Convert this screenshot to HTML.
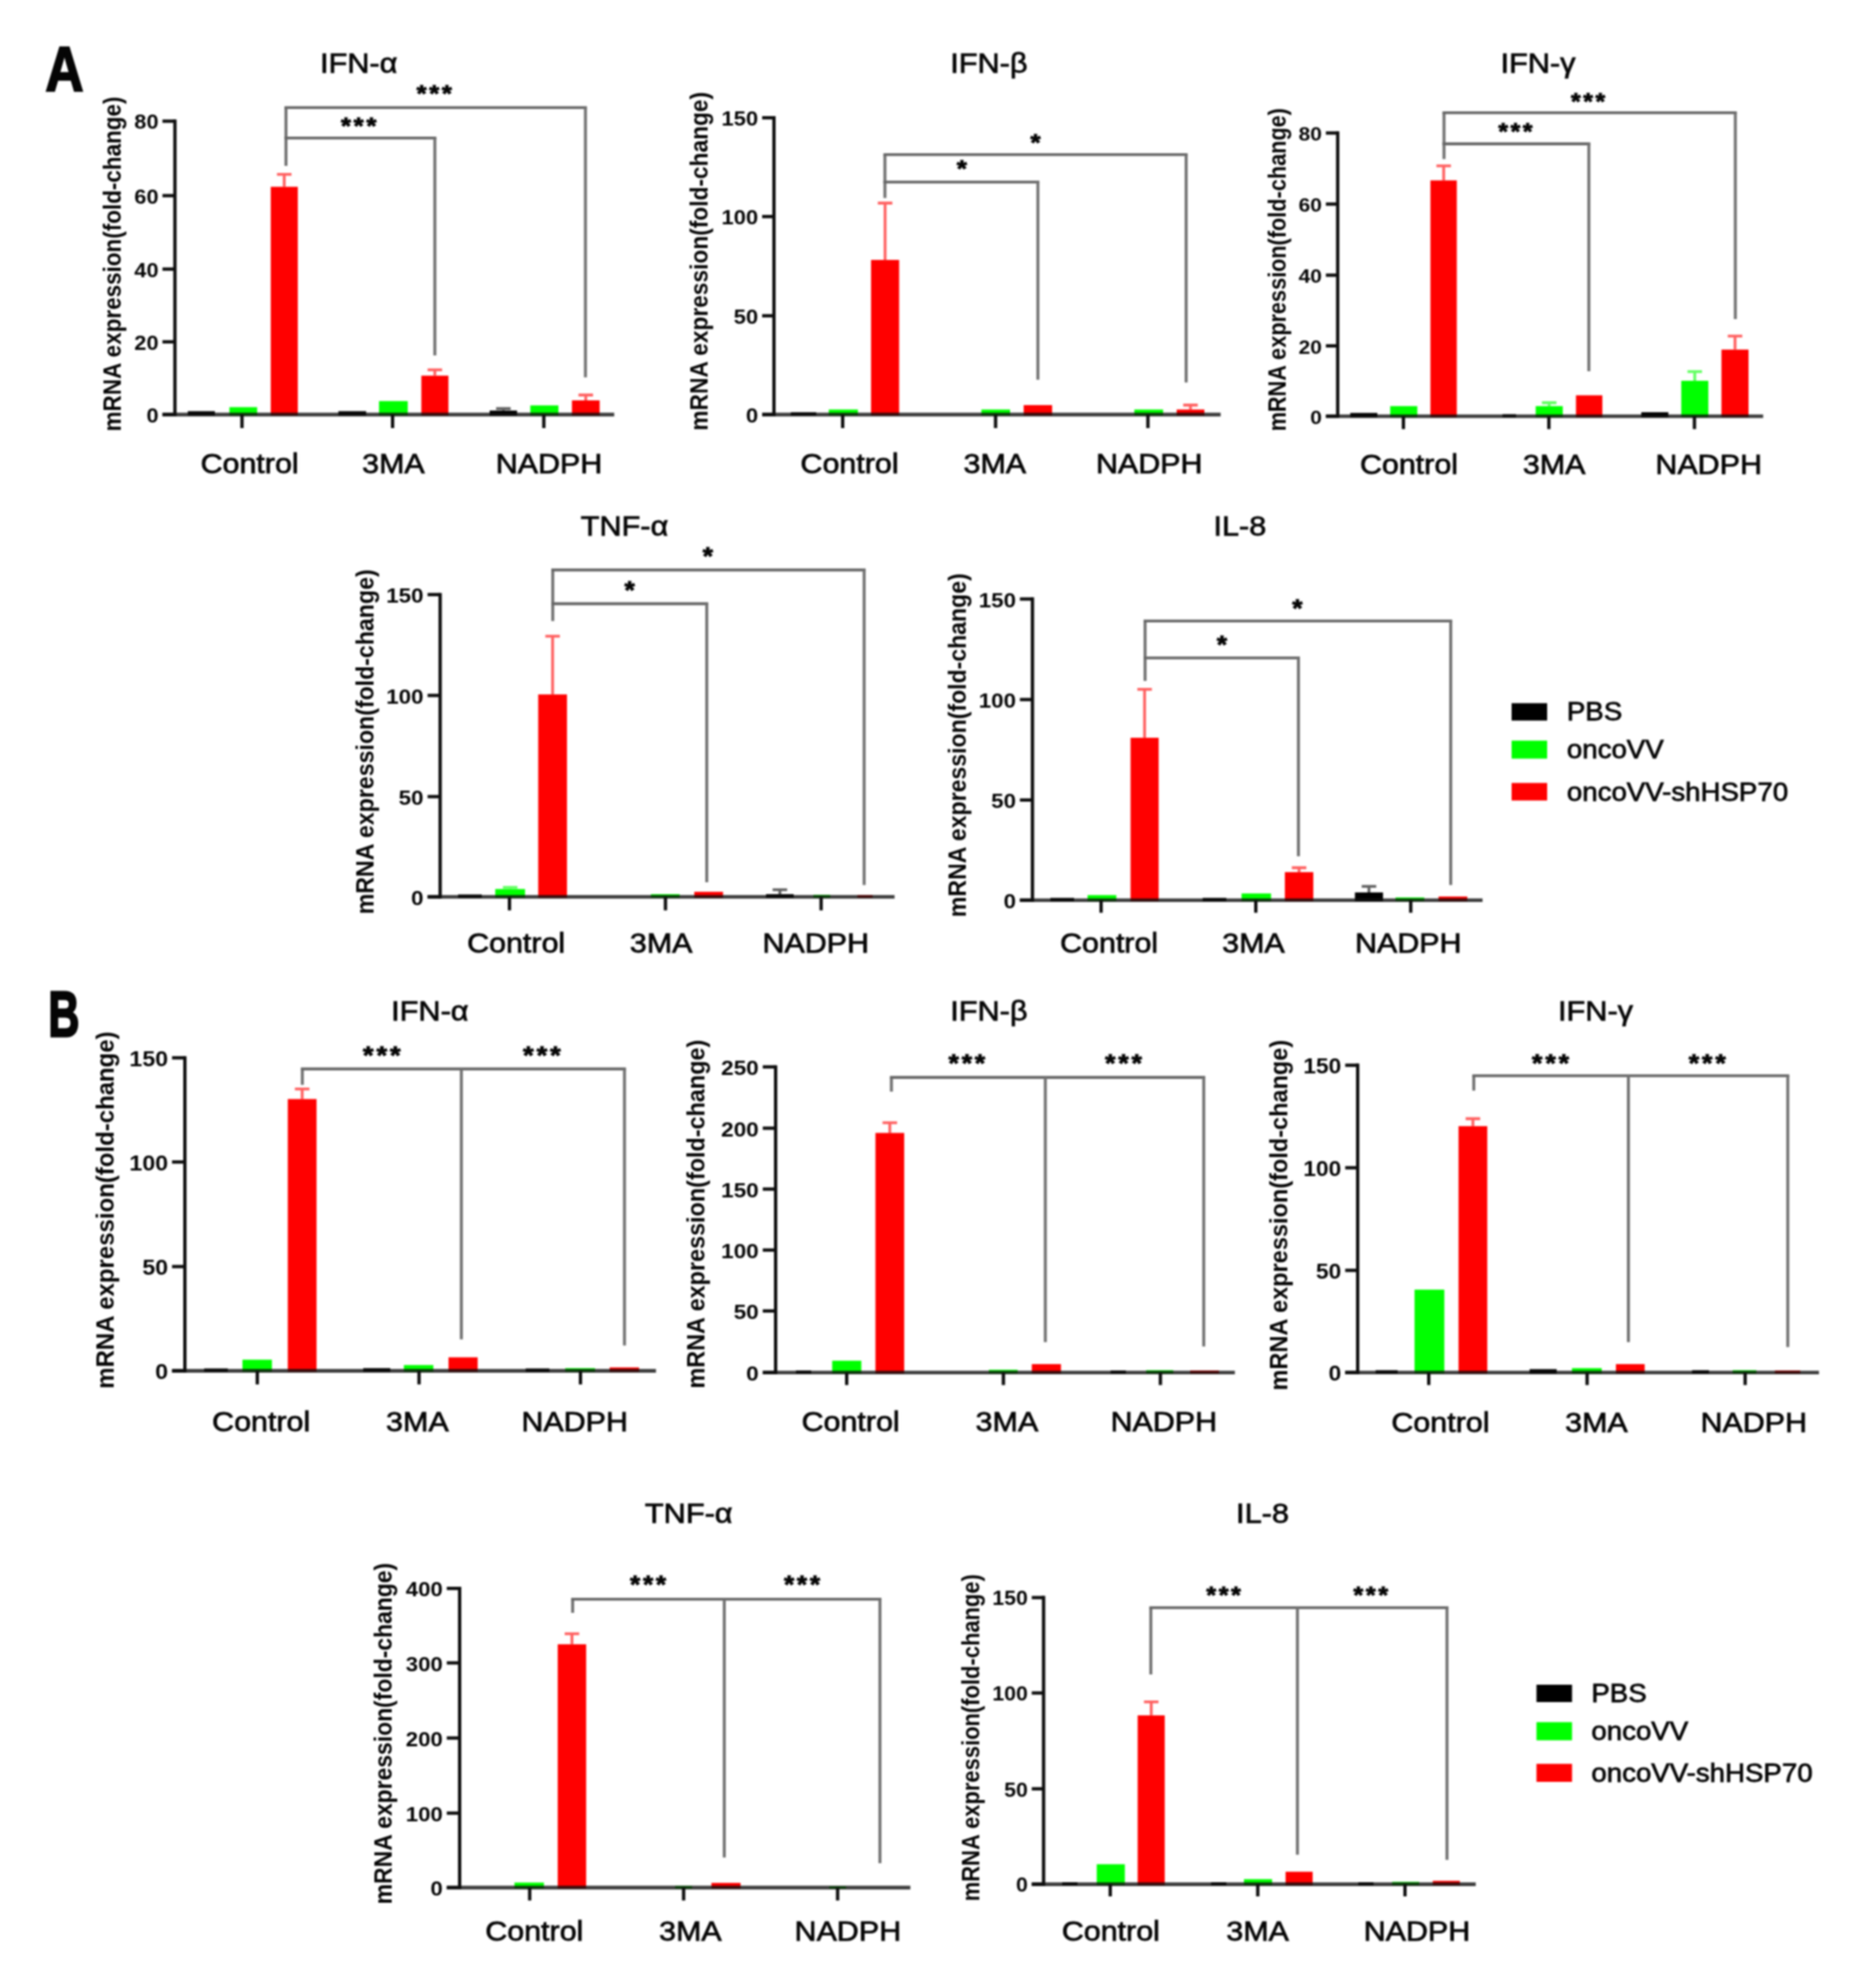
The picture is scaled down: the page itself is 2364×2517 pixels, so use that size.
<!DOCTYPE html>
<html lang="en">
<head>
<meta charset="utf-8">
<title>Figure: mRNA expression (fold-change)</title>
<style>
html,body{margin:0;padding:0;background:#ffffff;}
body{width:2364px;height:2517px;overflow:hidden;}
svg{display:block;font-family:"Liberation Sans",Arial,Helvetica,sans-serif;fill:#050505;}
</style>
</head>
<body>
<svg width="2364" height="2517" viewBox="0 0 2364 2517" shape-rendering="geometricPrecision">
<defs><filter id="soft" x="0" y="0" width="100%" height="100%" filterUnits="userSpaceOnUse" color-interpolation-filters="sRGB"><feGaussianBlur stdDeviation="0.95"/></filter></defs>
<rect x="0" y="0" width="2364" height="2517" fill="#ffffff"/>
<g filter="url(#soft)">
<g>
<text transform="translate(454.2,92.1) scale(1.08,1)" font-size="36.0" text-anchor="middle" font-weight="normal" stroke="#050505" stroke-width="0.9">IFN-α</text>
<rect x="237.8" y="520.6" width="34.3" height="5.5" fill="#000000"/>
<rect x="290.5" y="515.5" width="35.1" height="10.6" fill="#00ff00"/>
<rect x="342.8" y="236.5" width="34.3" height="289.6" fill="#ff0000"/>
<path d="M359.9,236.5 V220.7 M350.7,220.7 H369.1" stroke="#ff0000" stroke-width="3.6" fill="none" opacity="0.62"/>
<rect x="428.5" y="520.6" width="35.1" height="5.5" fill="#000000"/>
<rect x="479.9" y="507.8" width="36.4" height="18.3" fill="#00ff00"/>
<rect x="533.5" y="475.6" width="34.3" height="50.5" fill="#ff0000"/>
<path d="M550.6,475.6 V468.3 M541.4,468.3 H559.8" stroke="#ff0000" stroke-width="3.6" fill="none" opacity="0.62"/>
<rect x="620" y="519.8" width="34.7" height="6.3" fill="#000000"/>
<path d="M637.4,519.8 V517.2 M628.2,517.2 H646.6" stroke="#000000" stroke-width="3.6" fill="none" opacity="0.62"/>
<rect x="671.5" y="513.3" width="35.6" height="12.8" fill="#00ff00"/>
<rect x="724.2" y="506.9" width="35.1" height="19.2" fill="#ff0000"/>
<path d="M741.7,506.9 V500.1 M732.5,500.1 H750.9" stroke="#ff0000" stroke-width="3.6" fill="none" opacity="0.62"/>
<path d="M221.5,151.3 V527" stroke="#0d0d0d" stroke-width="4.2" fill="none"/>
<path d="M205.7,524.9 H777.7" stroke="#0d0d0d" stroke-width="4.6000000000000005" fill="none" stroke-opacity="0.8"/>
<path d="M205.7,153.4 H221.5" stroke="#0d0d0d" stroke-width="4.2" fill="none"/>
<text transform="translate(200.7,163.3) scale(1.08,1)" font-size="25.500349269489707" text-anchor="end" font-weight="bold">80</text>
<path d="M205.7,247.7 H221.5" stroke="#0d0d0d" stroke-width="4.2" fill="none"/>
<text transform="translate(200.7,257.6) scale(1.08,1)" font-size="25.500349269489707" text-anchor="end" font-weight="bold">60</text>
<path d="M205.7,340.7 H221.5" stroke="#0d0d0d" stroke-width="4.2" fill="none"/>
<text transform="translate(200.7,350.6) scale(1.08,1)" font-size="25.500349269489707" text-anchor="end" font-weight="bold">40</text>
<path d="M205.7,432.8 H221.5" stroke="#0d0d0d" stroke-width="4.2" fill="none"/>
<text transform="translate(200.7,442.7) scale(1.08,1)" font-size="25.500349269489707" text-anchor="end" font-weight="bold">20</text>
<path d="M205.7,524.9 H221.5" stroke="#0d0d0d" stroke-width="4.2" fill="none"/>
<text transform="translate(200.7,534.8) scale(1.08,1)" font-size="25.500349269489707" text-anchor="end" font-weight="bold">0</text>
<path d="M306.4,524.9 V542" stroke="#0d0d0d" stroke-width="4.2" fill="none"/>
<path d="M497.1,524.9 V542" stroke="#0d0d0d" stroke-width="4.2" fill="none"/>
<path d="M688.6,524.9 V542" stroke="#0d0d0d" stroke-width="4.2" fill="none"/>
<text transform="translate(316,598.8) scale(1.08,1)" font-size="35.7" text-anchor="middle" font-weight="normal" stroke="#050505" stroke-width="0.9">Control</text>
<text transform="translate(498.1,598.8) scale(1.08,1)" font-size="35.7" text-anchor="middle" font-weight="normal" stroke="#050505" stroke-width="0.9">3MA</text>
<text transform="translate(695.2,598.8) scale(1.08,1)" font-size="35.7" text-anchor="middle" font-weight="normal" stroke="#050505" stroke-width="0.9">NADPH</text>
<text transform="translate(152.7,334.2) rotate(-90) scale(1.0000,1.08)" font-size="28.45" text-anchor="middle" font-weight="bold">mRNA expression(fold-change)</text>
<path d="M362.1,210 V136.3" stroke="#727272" stroke-width="3.8" fill="none"/>
<path d="M360.2,136.3 H743.2" stroke="#666666" stroke-width="3.6" fill="none"/>
<path d="M741.3,136.3 V477.8" stroke="#727272" stroke-width="3.8" fill="none"/>
<path d="M360.2,174.8 H552.5" stroke="#666666" stroke-width="3.6" fill="none"/>
<path d="M550.6,174.8 V449.9" stroke="#727272" stroke-width="3.8" fill="none"/>
<text transform="translate(551.5,128.4) scale(1.08,1)" font-size="30.000410905282006" text-anchor="middle" font-weight="bold" letter-spacing="3.20" stroke="#050505" stroke-width="1.0">***</text>
<text transform="translate(455.9,168.7) scale(1.08,1)" font-size="30.000410905282006" text-anchor="middle" font-weight="bold" letter-spacing="3.20" stroke="#050505" stroke-width="1.0">***</text>
</g>
<g>
<text transform="translate(1252.1,92.1) scale(1.08,1)" font-size="36.0" text-anchor="middle" font-weight="normal" stroke="#050505" stroke-width="0.9">IFN-β</text>
<rect x="1001.4" y="521.9" width="32.1" height="4.2" fill="#000000"/>
<rect x="1049.4" y="518.5" width="36.9" height="7.6" fill="#00ff00"/>
<rect x="1102.9" y="329.1" width="35.6" height="197" fill="#ff0000"/>
<path d="M1120.7,329.1 V257.1 M1111.5,257.1 H1129.9" stroke="#ff0000" stroke-width="3.6" fill="none" opacity="0.62"/>
<rect x="1242.6" y="518.5" width="36.4" height="7.6" fill="#00ff00"/>
<rect x="1296.2" y="512.9" width="36" height="13.2" fill="#ff0000"/>
<rect x="1436.3" y="518.5" width="36.4" height="7.6" fill="#00ff00"/>
<rect x="1489.9" y="518.5" width="35.1" height="7.6" fill="#ff0000"/>
<path d="M1507.4,518.5 V512.9 M1498.2,512.9 H1516.6" stroke="#ff0000" stroke-width="3.6" fill="none" opacity="0.62"/>
<path d="M980,147 V527" stroke="#0d0d0d" stroke-width="4.2" fill="none"/>
<path d="M965,524.9 H1545.6" stroke="#0d0d0d" stroke-width="4.6000000000000005" fill="none" stroke-opacity="0.8"/>
<path d="M965,149.1 H980" stroke="#0d0d0d" stroke-width="4.2" fill="none"/>
<text transform="translate(960,159.1) scale(1.08,1)" font-size="25.794470945031687" text-anchor="end" font-weight="bold">150</text>
<path d="M965,274.2 H980" stroke="#0d0d0d" stroke-width="4.2" fill="none"/>
<text transform="translate(960,284.3) scale(1.08,1)" font-size="25.794470945031687" text-anchor="end" font-weight="bold">100</text>
<path d="M965,399.8 H980" stroke="#0d0d0d" stroke-width="4.2" fill="none"/>
<text transform="translate(960,409.8) scale(1.08,1)" font-size="25.794470945031687" text-anchor="end" font-weight="bold">50</text>
<path d="M965,524.9 H980" stroke="#0d0d0d" stroke-width="4.2" fill="none"/>
<text transform="translate(960,534.9) scale(1.08,1)" font-size="25.794470945031687" text-anchor="end" font-weight="bold">0</text>
<path d="M1067,524.9 V542" stroke="#0d0d0d" stroke-width="4.2" fill="none"/>
<path d="M1260.6,524.9 V542" stroke="#0d0d0d" stroke-width="4.2" fill="none"/>
<path d="M1453.5,524.9 V542" stroke="#0d0d0d" stroke-width="4.2" fill="none"/>
<text transform="translate(1075.7,598.8) scale(1.08,1)" font-size="35.7" text-anchor="middle" font-weight="normal" stroke="#050505" stroke-width="0.9">Control</text>
<text transform="translate(1259.6,598.8) scale(1.08,1)" font-size="35.7" text-anchor="middle" font-weight="normal" stroke="#050505" stroke-width="0.9">3MA</text>
<text transform="translate(1455.2,598.8) scale(1.08,1)" font-size="35.7" text-anchor="middle" font-weight="normal" stroke="#050505" stroke-width="0.9">NADPH</text>
<text transform="translate(896.1,330.8) rotate(-90) scale(1.0115,1.08)" font-size="28.45" text-anchor="middle" font-weight="bold">mRNA expression(fold-change)</text>
<path d="M1120.5,250.7 V195.8" stroke="#727272" stroke-width="3.8" fill="none"/>
<path d="M1118.6,195.8 H1503.8" stroke="#666666" stroke-width="3.6" fill="none"/>
<path d="M1501.9,195.8 V484.2" stroke="#727272" stroke-width="3.8" fill="none"/>
<path d="M1118.6,230.5 H1316.1" stroke="#666666" stroke-width="3.6" fill="none"/>
<path d="M1314.2,230.5 V480.8" stroke="#727272" stroke-width="3.8" fill="none"/>
<text transform="translate(1312.9,190.2) scale(1.08,1)" font-size="30.34643640591963" text-anchor="middle" font-weight="bold" letter-spacing="3.24" stroke="#050505" stroke-width="1.0">*</text>
<text transform="translate(1219.5,223.2) scale(1.08,1)" font-size="30.34643640591963" text-anchor="middle" font-weight="bold" letter-spacing="3.24" stroke="#050505" stroke-width="1.0">*</text>
</g>
<g>
<text transform="translate(1947.5,92.1) scale(1.08,1)" font-size="36.0" text-anchor="middle" font-weight="normal" stroke="#050505" stroke-width="0.9">IFN-γ</text>
<rect x="1709.7" y="522.8" width="34.3" height="5.5" fill="#000000"/>
<rect x="1760.3" y="514.2" width="34.3" height="14.1" fill="#00ff00"/>
<rect x="1811.2" y="228.4" width="33.4" height="299.9" fill="#ff0000"/>
<path d="M1828,228.4 V210 M1818.8,210 H1837.2" stroke="#ff0000" stroke-width="3.6" fill="none" opacity="0.62"/>
<rect x="1902.5" y="524.5" width="17.1" height="3.8" fill="#000000"/>
<rect x="1944.5" y="514.2" width="34.3" height="14.1" fill="#00ff00"/>
<path d="M1961.6,514.2 V509.9 M1952.4,509.9 H1970.8" stroke="#00ff00" stroke-width="3.6" fill="none" opacity="0.62"/>
<rect x="1995.5" y="500.5" width="33.4" height="27.8" fill="#ff0000"/>
<rect x="2078.2" y="521.9" width="34.3" height="6.3" fill="#000000"/>
<rect x="2128.8" y="482.1" width="34.3" height="46.2" fill="#00ff00"/>
<path d="M2145.9,482.1 V470.5 M2136.7,470.5 H2155.1" stroke="#00ff00" stroke-width="3.6" fill="none" opacity="0.62"/>
<rect x="2179.7" y="442.6" width="34.3" height="85.6" fill="#ff0000"/>
<path d="M2196.9,442.6 V425.5 M2187.7,425.5 H2206.1" stroke="#ff0000" stroke-width="3.6" fill="none" opacity="0.62"/>
<path d="M1693.8,166.3 V529.1" stroke="#0d0d0d" stroke-width="4.2" fill="none"/>
<path d="M1678.8,527 H2232.5" stroke="#0d0d0d" stroke-width="4.6000000000000005" fill="none" stroke-opacity="0.8"/>
<path d="M1678.8,168.4 H1693.8" stroke="#0d0d0d" stroke-width="4.2" fill="none"/>
<text transform="translate(1673.8,178) scale(1.08,1)" font-size="24.617984242863763" text-anchor="end" font-weight="bold">80</text>
<path d="M1678.8,258.4 H1693.8" stroke="#0d0d0d" stroke-width="4.2" fill="none"/>
<text transform="translate(1673.8,267.9) scale(1.08,1)" font-size="24.617984242863763" text-anchor="end" font-weight="bold">60</text>
<path d="M1678.8,348.4 H1693.8" stroke="#0d0d0d" stroke-width="4.2" fill="none"/>
<text transform="translate(1673.8,357.9) scale(1.08,1)" font-size="24.617984242863763" text-anchor="end" font-weight="bold">40</text>
<path d="M1678.8,437.9 H1693.8" stroke="#0d0d0d" stroke-width="4.2" fill="none"/>
<text transform="translate(1673.8,447.5) scale(1.08,1)" font-size="24.617984242863763" text-anchor="end" font-weight="bold">20</text>
<path d="M1678.8,527 H1693.8" stroke="#0d0d0d" stroke-width="4.2" fill="none"/>
<text transform="translate(1673.8,536.6) scale(1.08,1)" font-size="24.617984242863763" text-anchor="end" font-weight="bold">0</text>
<path d="M1777,527 V543.3" stroke="#0d0d0d" stroke-width="4.2" fill="none"/>
<path d="M1961.2,527 V543.3" stroke="#0d0d0d" stroke-width="4.2" fill="none"/>
<path d="M2145.5,527 V543.3" stroke="#0d0d0d" stroke-width="4.2" fill="none"/>
<text transform="translate(1784,599.6) scale(1.08,1)" font-size="35.7" text-anchor="middle" font-weight="normal" stroke="#050505" stroke-width="0.9">Control</text>
<text transform="translate(1967.9,599.6) scale(1.08,1)" font-size="35.7" text-anchor="middle" font-weight="normal" stroke="#050505" stroke-width="0.9">3MA</text>
<text transform="translate(2163.5,599.6) scale(1.08,1)" font-size="35.7" text-anchor="middle" font-weight="normal" stroke="#050505" stroke-width="0.9">NADPH</text>
<text transform="translate(1628,341.5) rotate(-90) scale(0.9654,1.08)" font-size="28.45" text-anchor="middle" font-weight="bold">mRNA expression(fold-change)</text>
<path d="M1828.4,201.4 V142.7" stroke="#727272" stroke-width="3.8" fill="none"/>
<path d="M1826.5,142.7 H2199.2" stroke="#666666" stroke-width="3.6" fill="none"/>
<path d="M2197.3,142.7 V404.1" stroke="#727272" stroke-width="3.8" fill="none"/>
<path d="M1826.5,182.1 H2013.7" stroke="#666666" stroke-width="3.6" fill="none"/>
<path d="M2011.8,182.1 V470.1" stroke="#727272" stroke-width="3.8" fill="none"/>
<text transform="translate(2012.6,138.2) scale(1.08,1)" font-size="28.962334403369134" text-anchor="middle" font-weight="bold" letter-spacing="3.09" stroke="#050505" stroke-width="1.0">***</text>
<text transform="translate(1920.4,175.9) scale(1.08,1)" font-size="28.962334403369134" text-anchor="middle" font-weight="bold" letter-spacing="3.09" stroke="#050505" stroke-width="1.0">***</text>
</g>
<g>
<text transform="translate(790.8,677.8) scale(1.08,1)" font-size="36.0" text-anchor="middle" font-weight="normal" stroke="#050505" stroke-width="0.9">TNF-α</text>
<rect x="580" y="1132.5" width="30" height="4.2" fill="#000000"/>
<rect x="627.1" y="1125.6" width="37.7" height="11.1" fill="#00ff00"/>
<path d="M646,1125.6 V1123.5 M636.8,1123.5 H655.2" stroke="#00ff00" stroke-width="3.6" fill="none" opacity="0.62"/>
<rect x="681.5" y="879.2" width="36.4" height="257.4" fill="#ff0000"/>
<path d="M699.7,879.2 V805.5 M690.5,805.5 H708.9" stroke="#ff0000" stroke-width="3.6" fill="none" opacity="0.62"/>
<rect x="824.2" y="1132.1" width="36.4" height="4.6" fill="#00ff00"/>
<rect x="879.1" y="1129.1" width="36.4" height="7.6" fill="#ff0000"/>
<rect x="969.9" y="1132.1" width="35.1" height="4.6" fill="#000000"/>
<path d="M987.5,1132.1 V1126.5 M978.3,1126.5 H996.7" stroke="#000000" stroke-width="3.6" fill="none" opacity="0.62"/>
<rect x="1029.9" y="1132.9" width="21.4" height="3.8" fill="#00ff00"/>
<rect x="1085.6" y="1133.3" width="19.3" height="3.3" fill="#ff0000"/>
<path d="M557.3,750.7 V1137.6" stroke="#0d0d0d" stroke-width="4.2" fill="none"/>
<path d="M541.4,1135.5 H1132.7" stroke="#0d0d0d" stroke-width="4.6000000000000005" fill="none" stroke-opacity="0.8"/>
<path d="M541.4,752.8 H557.3" stroke="#0d0d0d" stroke-width="4.2" fill="none"/>
<text transform="translate(536.4,763) scale(1.08,1)" font-size="26.265065625898856" text-anchor="end" font-weight="bold">150</text>
<path d="M541.4,880.5 H557.3" stroke="#0d0d0d" stroke-width="4.2" fill="none"/>
<text transform="translate(536.4,890.7) scale(1.08,1)" font-size="26.265065625898856" text-anchor="end" font-weight="bold">100</text>
<path d="M541.4,1008.6 H557.3" stroke="#0d0d0d" stroke-width="4.2" fill="none"/>
<text transform="translate(536.4,1018.8) scale(1.08,1)" font-size="26.265065625898856" text-anchor="end" font-weight="bold">50</text>
<path d="M541.4,1135.5 H557.3" stroke="#0d0d0d" stroke-width="4.2" fill="none"/>
<text transform="translate(536.4,1145.7) scale(1.08,1)" font-size="26.265065625898856" text-anchor="end" font-weight="bold">0</text>
<path d="M645.1,1135.5 V1152.6" stroke="#0d0d0d" stroke-width="4.2" fill="none"/>
<path d="M842.6,1135.5 V1152.6" stroke="#0d0d0d" stroke-width="4.2" fill="none"/>
<path d="M1039.7,1135.5 V1152.6" stroke="#0d0d0d" stroke-width="4.2" fill="none"/>
<text transform="translate(653.5,1205.9) scale(1.08,1)" font-size="35.7" text-anchor="middle" font-weight="normal" stroke="#050505" stroke-width="0.9">Control</text>
<text transform="translate(837.1,1205.9) scale(1.08,1)" font-size="35.7" text-anchor="middle" font-weight="normal" stroke="#050505" stroke-width="0.9">3MA</text>
<text transform="translate(1032.9,1205.9) scale(1.08,1)" font-size="35.7" text-anchor="middle" font-weight="normal" stroke="#050505" stroke-width="0.9">NADPH</text>
<text transform="translate(472.6,939.2) rotate(-90) scale(1.0300,1.08)" font-size="28.45" text-anchor="middle" font-weight="bold">mRNA expression(fold-change)</text>
<path d="M699.9,786.3 V721.6" stroke="#727272" stroke-width="3.8" fill="none"/>
<path d="M698,721.6 H1096.1" stroke="#666666" stroke-width="3.6" fill="none"/>
<path d="M1094.2,721.6 V1120.5" stroke="#727272" stroke-width="3.8" fill="none"/>
<path d="M698,764.4 H896.8" stroke="#666666" stroke-width="3.6" fill="none"/>
<path d="M894.9,764.4 V1117.1" stroke="#727272" stroke-width="3.8" fill="none"/>
<text transform="translate(897.9,715) scale(1.08,1)" font-size="30.90007720693983" text-anchor="middle" font-weight="bold" letter-spacing="3.30" stroke="#050505" stroke-width="1.0">*</text>
<text transform="translate(799,758.2) scale(1.08,1)" font-size="30.90007720693983" text-anchor="middle" font-weight="bold" letter-spacing="3.30" stroke="#050505" stroke-width="1.0">*</text>
</g>
<g>
<text transform="translate(1569.9,677.8) scale(1.08,1)" font-size="36.0" text-anchor="middle" font-weight="normal" stroke="#050505" stroke-width="0.9">IL-8</text>
<rect x="1330" y="1136.8" width="30" height="4.2" fill="#000000"/>
<rect x="1377.1" y="1133.3" width="36.4" height="7.6" fill="#00ff00"/>
<rect x="1431.5" y="934.1" width="35.6" height="206.9" fill="#ff0000"/>
<path d="M1449.3,934.1 V872.8 M1440.1,872.8 H1458.5" stroke="#ff0000" stroke-width="3.6" fill="none" opacity="0.62"/>
<rect x="1522.8" y="1136.8" width="30" height="4.2" fill="#000000"/>
<rect x="1572.1" y="1131.2" width="37.3" height="9.8" fill="#00ff00"/>
<rect x="1626.9" y="1104.2" width="36" height="36.8" fill="#ff0000"/>
<path d="M1644.9,1104.2 V1098.6 M1635.7,1098.6 H1654.1" stroke="#ff0000" stroke-width="3.6" fill="none" opacity="0.62"/>
<rect x="1715.6" y="1129.9" width="35.6" height="11.1" fill="#000000"/>
<path d="M1733.4,1129.9 V1122.2 M1724.2,1122.2 H1742.6" stroke="#000000" stroke-width="3.6" fill="none" opacity="0.62"/>
<rect x="1767" y="1136.3" width="36.4" height="4.6" fill="#00ff00"/>
<rect x="1821.5" y="1135.1" width="36.4" height="5.9" fill="#ff0000"/>
<path d="M1307.3,756.3 V1141.9" stroke="#0d0d0d" stroke-width="4.2" fill="none"/>
<path d="M1291.4,1139.8 H1877.2" stroke="#0d0d0d" stroke-width="4.6000000000000005" fill="none" stroke-opacity="0.8"/>
<path d="M1291.4,758.4 H1307.3" stroke="#0d0d0d" stroke-width="4.2" fill="none"/>
<text transform="translate(1286.4,768.6) scale(1.08,1)" font-size="26.17682912323626" text-anchor="end" font-weight="bold">150</text>
<path d="M1291.4,885.7 H1307.3" stroke="#0d0d0d" stroke-width="4.2" fill="none"/>
<text transform="translate(1286.4,895.8) scale(1.08,1)" font-size="26.17682912323626" text-anchor="end" font-weight="bold">100</text>
<path d="M1291.4,1012.9 H1307.3" stroke="#0d0d0d" stroke-width="4.2" fill="none"/>
<text transform="translate(1286.4,1023.1) scale(1.08,1)" font-size="26.17682912323626" text-anchor="end" font-weight="bold">50</text>
<path d="M1291.4,1139.8 H1307.3" stroke="#0d0d0d" stroke-width="4.2" fill="none"/>
<text transform="translate(1286.4,1149.9) scale(1.08,1)" font-size="26.17682912323626" text-anchor="end" font-weight="bold">0</text>
<path d="M1394.2,1139.8 V1155.6" stroke="#0d0d0d" stroke-width="4.2" fill="none"/>
<path d="M1590.1,1139.8 V1155.6" stroke="#0d0d0d" stroke-width="4.2" fill="none"/>
<path d="M1786.3,1139.8 V1155.6" stroke="#0d0d0d" stroke-width="4.2" fill="none"/>
<text transform="translate(1404.3,1205.9) scale(1.08,1)" font-size="35.7" text-anchor="middle" font-weight="normal" stroke="#050505" stroke-width="0.9">Control</text>
<text transform="translate(1587.1,1205.9) scale(1.08,1)" font-size="35.7" text-anchor="middle" font-weight="normal" stroke="#050505" stroke-width="0.9">3MA</text>
<text transform="translate(1783.1,1205.9) scale(1.08,1)" font-size="35.7" text-anchor="middle" font-weight="normal" stroke="#050505" stroke-width="0.9">NADPH</text>
<text transform="translate(1222.6,943.5) rotate(-90) scale(1.0265,1.08)" font-size="28.45" text-anchor="middle" font-weight="bold">mRNA expression(fold-change)</text>
<path d="M1449.9,862.1 V786.3" stroke="#727272" stroke-width="3.8" fill="none"/>
<path d="M1448,786.3 H1838.8" stroke="#666666" stroke-width="3.6" fill="none"/>
<path d="M1836.9,786.3 V1120.5" stroke="#727272" stroke-width="3.8" fill="none"/>
<path d="M1448,833 H1646" stroke="#666666" stroke-width="3.6" fill="none"/>
<path d="M1644.1,833 V1084.1" stroke="#727272" stroke-width="3.8" fill="none"/>
<text transform="translate(1644.5,780.5) scale(1.08,1)" font-size="30.79626955674854" text-anchor="middle" font-weight="bold" letter-spacing="3.28" stroke="#050505" stroke-width="1.0">*</text>
<text transform="translate(1549,826.7) scale(1.08,1)" font-size="30.79626955674854" text-anchor="middle" font-weight="bold" letter-spacing="3.28" stroke="#050505" stroke-width="1.0">*</text>
</g>
<g>
<text transform="translate(544.3,1292.1) scale(1.08,1)" font-size="36.0" text-anchor="middle" font-weight="normal" stroke="#050505" stroke-width="0.9">IFN-α</text>
<rect x="258.5" y="1732.6" width="30" height="4.2" fill="#000000"/>
<rect x="307" y="1721.5" width="37.3" height="15.3" fill="#00ff00"/>
<rect x="364.4" y="1391.5" width="36.4" height="345.3" fill="#ff0000"/>
<path d="M382.6,1391.5 V1378.7 M373.4,1378.7 H391.8" stroke="#ff0000" stroke-width="3.6" fill="none" opacity="0.62"/>
<rect x="459.9" y="1732.2" width="34.3" height="4.6" fill="#000000"/>
<rect x="511.4" y="1728.3" width="37.3" height="8.5" fill="#00ff00"/>
<rect x="567.9" y="1718.5" width="36.9" height="18.3" fill="#ff0000"/>
<rect x="665.6" y="1732.6" width="30" height="4.2" fill="#000000"/>
<rect x="715.7" y="1732.2" width="37.7" height="4.6" fill="#00ff00"/>
<rect x="771.9" y="1731.3" width="37.3" height="5.5" fill="#ff0000"/>
<path d="M234.1,1337.2 V1737.7" stroke="#0d0d0d" stroke-width="4.2" fill="none"/>
<path d="M217.8,1735.6 H830.6" stroke="#0d0d0d" stroke-width="4.6000000000000005" fill="none" stroke-opacity="0.8"/>
<path d="M217.8,1339.3 H234.1" stroke="#0d0d0d" stroke-width="4.2" fill="none"/>
<text transform="translate(212.8,1349.8) scale(1.08,1)" font-size="27.20625498763319" text-anchor="end" font-weight="bold">150</text>
<path d="M217.8,1471.2 H234.1" stroke="#0d0d0d" stroke-width="4.2" fill="none"/>
<text transform="translate(212.8,1481.8) scale(1.08,1)" font-size="27.20625498763319" text-anchor="end" font-weight="bold">100</text>
<path d="M217.8,1603.6 H234.1" stroke="#0d0d0d" stroke-width="4.2" fill="none"/>
<text transform="translate(212.8,1614.2) scale(1.08,1)" font-size="27.20625498763319" text-anchor="end" font-weight="bold">50</text>
<path d="M217.8,1735.6 H234.1" stroke="#0d0d0d" stroke-width="4.2" fill="none"/>
<text transform="translate(212.8,1746.2) scale(1.08,1)" font-size="27.20625498763319" text-anchor="end" font-weight="bold">0</text>
<path d="M325.8,1735.6 V1752.8" stroke="#0d0d0d" stroke-width="4.2" fill="none"/>
<path d="M530.6,1735.6 V1752.8" stroke="#0d0d0d" stroke-width="4.2" fill="none"/>
<path d="M735,1735.6 V1752.8" stroke="#0d0d0d" stroke-width="4.2" fill="none"/>
<text transform="translate(330.7,1811.6) scale(1.08,1)" font-size="35.7" text-anchor="middle" font-weight="normal" stroke="#050505" stroke-width="0.9">Control</text>
<text transform="translate(528.5,1811.6) scale(1.08,1)" font-size="35.7" text-anchor="middle" font-weight="normal" stroke="#050505" stroke-width="0.9">3MA</text>
<text transform="translate(727.7,1811.6) scale(1.08,1)" font-size="35.7" text-anchor="middle" font-weight="normal" stroke="#050505" stroke-width="0.9">NADPH</text>
<text transform="translate(143.9,1532.1) rotate(-90) scale(1.0669,1.08)" font-size="28.45" text-anchor="middle" font-weight="bold">mRNA expression(fold-change)</text>
<path d="M382.8,1373.5 V1353.4" stroke="#727272" stroke-width="3.8" fill="none"/>
<path d="M380.9,1353.4 H792.6" stroke="#666666" stroke-width="3.6" fill="none"/>
<path d="M790.7,1353.4 V1703.5" stroke="#727272" stroke-width="3.8" fill="none"/>
<path d="M584.2,1353.4 V1695.8" stroke="#727272" stroke-width="3.8" fill="none"/>
<text transform="translate(485.3,1347.3) scale(1.08,1)" font-size="32.00735880898023" text-anchor="middle" font-weight="bold" letter-spacing="3.41" stroke="#050505" stroke-width="1.0">***</text>
<text transform="translate(688,1347.3) scale(1.08,1)" font-size="32.00735880898023" text-anchor="middle" font-weight="bold" letter-spacing="3.41" stroke="#050505" stroke-width="1.0">***</text>
</g>
<g>
<text transform="translate(1252.1,1292.1) scale(1.08,1)" font-size="36.0" text-anchor="middle" font-weight="normal" stroke="#050505" stroke-width="0.9">IFN-β</text>
<rect x="1007.8" y="1735.2" width="19.3" height="3.8" fill="#000000"/>
<rect x="1053.7" y="1722.8" width="36.9" height="16.2" fill="#00ff00"/>
<rect x="1108.5" y="1434.4" width="36.4" height="304.6" fill="#ff0000"/>
<path d="M1126.7,1434.4 V1421.5 M1117.5,1421.5 H1135.9" stroke="#ff0000" stroke-width="3.6" fill="none" opacity="0.62"/>
<rect x="1252.1" y="1734.3" width="36.4" height="4.6" fill="#00ff00"/>
<rect x="1306.5" y="1727.1" width="36.9" height="11.9" fill="#ff0000"/>
<rect x="1406.3" y="1735.2" width="19.3" height="3.8" fill="#000000"/>
<rect x="1451.3" y="1734.8" width="34.3" height="4.2" fill="#00ff00"/>
<rect x="1507" y="1735.2" width="36.4" height="3.8" fill="#ff0000"/>
<path d="M982.1,1348.7 V1739.9" stroke="#0d0d0d" stroke-width="4.2" fill="none"/>
<path d="M965.8,1737.8 H1563.6" stroke="#0d0d0d" stroke-width="4.6000000000000005" fill="none" stroke-opacity="0.8"/>
<path d="M965.8,1350.8 H982.1" stroke="#0d0d0d" stroke-width="4.2" fill="none"/>
<text transform="translate(960.8,1361.1) scale(1.08,1)" font-size="26.559187301440833" text-anchor="end" font-weight="bold">250</text>
<path d="M965.8,1428.4 H982.1" stroke="#0d0d0d" stroke-width="4.2" fill="none"/>
<text transform="translate(960.8,1438.7) scale(1.08,1)" font-size="26.559187301440833" text-anchor="end" font-weight="bold">200</text>
<path d="M965.8,1505.5 H982.1" stroke="#0d0d0d" stroke-width="4.2" fill="none"/>
<text transform="translate(960.8,1515.8) scale(1.08,1)" font-size="26.559187301440833" text-anchor="end" font-weight="bold">150</text>
<path d="M965.8,1582.7 H982.1" stroke="#0d0d0d" stroke-width="4.2" fill="none"/>
<text transform="translate(960.8,1593) scale(1.08,1)" font-size="26.559187301440833" text-anchor="end" font-weight="bold">100</text>
<path d="M965.8,1659.8 H982.1" stroke="#0d0d0d" stroke-width="4.2" fill="none"/>
<text transform="translate(960.8,1670.1) scale(1.08,1)" font-size="26.559187301440833" text-anchor="end" font-weight="bold">50</text>
<path d="M965.8,1737.8 H982.1" stroke="#0d0d0d" stroke-width="4.2" fill="none"/>
<text transform="translate(960.8,1748.1) scale(1.08,1)" font-size="26.559187301440833" text-anchor="end" font-weight="bold">0</text>
<path d="M1072.1,1737.8 V1753.6" stroke="#0d0d0d" stroke-width="4.2" fill="none"/>
<path d="M1270.5,1737.8 V1753.6" stroke="#0d0d0d" stroke-width="4.2" fill="none"/>
<path d="M1469.3,1737.8 V1753.6" stroke="#0d0d0d" stroke-width="4.2" fill="none"/>
<text transform="translate(1077,1811.6) scale(1.08,1)" font-size="35.7" text-anchor="middle" font-weight="normal" stroke="#050505" stroke-width="0.9">Control</text>
<text transform="translate(1275,1811.6) scale(1.08,1)" font-size="35.7" text-anchor="middle" font-weight="normal" stroke="#050505" stroke-width="0.9">3MA</text>
<text transform="translate(1473.6,1811.6) scale(1.08,1)" font-size="35.7" text-anchor="middle" font-weight="normal" stroke="#050505" stroke-width="0.9">NADPH</text>
<text transform="translate(891.9,1537.2) rotate(-90) scale(1.0415,1.08)" font-size="28.45" text-anchor="middle" font-weight="bold">mRNA expression(fold-change)</text>
<path d="M1128.7,1382.1 V1364.1" stroke="#727272" stroke-width="3.8" fill="none"/>
<path d="M1126.8,1364.1 H1526.1" stroke="#666666" stroke-width="3.6" fill="none"/>
<path d="M1524.2,1364.1 V1704.8" stroke="#727272" stroke-width="3.8" fill="none"/>
<path d="M1323.6,1364.1 V1699.2" stroke="#727272" stroke-width="3.8" fill="none"/>
<text transform="translate(1226,1357.3) scale(1.08,1)" font-size="31.246102707577453" text-anchor="middle" font-weight="bold" letter-spacing="3.33" stroke="#050505" stroke-width="1.0">***</text>
<text transform="translate(1424.4,1357.3) scale(1.08,1)" font-size="31.246102707577453" text-anchor="middle" font-weight="bold" letter-spacing="3.33" stroke="#050505" stroke-width="1.0">***</text>
</g>
<g>
<text transform="translate(2020.3,1292.1) scale(1.08,1)" font-size="36.0" text-anchor="middle" font-weight="normal" stroke="#050505" stroke-width="0.9">IFN-γ</text>
<rect x="1741.8" y="1734.8" width="27.9" height="4.2" fill="#000000"/>
<rect x="1791.1" y="1632.8" width="37.7" height="106.2" fill="#00ff00"/>
<rect x="1846.8" y="1425.8" width="36.4" height="313.1" fill="#ff0000"/>
<path d="M1865,1425.8 V1416.4 M1855.8,1416.4 H1874.2" stroke="#ff0000" stroke-width="3.6" fill="none" opacity="0.62"/>
<rect x="1936.8" y="1733.5" width="34.3" height="5.5" fill="#000000"/>
<rect x="1990.4" y="1732.2" width="37.7" height="6.8" fill="#00ff00"/>
<rect x="2046.1" y="1727.1" width="36.4" height="11.9" fill="#ff0000"/>
<rect x="2142.5" y="1734.8" width="21.4" height="4.2" fill="#000000"/>
<rect x="2193.9" y="1734.8" width="30" height="4.2" fill="#00ff00"/>
<rect x="2247.4" y="1735.2" width="32.1" height="3.8" fill="#ff0000"/>
<path d="M1719.1,1346.6 V1739.9" stroke="#0d0d0d" stroke-width="4.2" fill="none"/>
<path d="M1703.3,1737.8 H2303.2" stroke="#0d0d0d" stroke-width="4.6000000000000005" fill="none" stroke-opacity="0.8"/>
<path d="M1703.3,1348.7 H1719.1" stroke="#0d0d0d" stroke-width="4.2" fill="none"/>
<text transform="translate(1698.3,1359.1) scale(1.08,1)" font-size="26.706248139211823" text-anchor="end" font-weight="bold">150</text>
<path d="M1703.3,1478.5 H1719.1" stroke="#0d0d0d" stroke-width="4.2" fill="none"/>
<text transform="translate(1698.3,1488.9) scale(1.08,1)" font-size="26.706248139211823" text-anchor="end" font-weight="bold">100</text>
<path d="M1703.3,1608.4 H1719.1" stroke="#0d0d0d" stroke-width="4.2" fill="none"/>
<text transform="translate(1698.3,1618.7) scale(1.08,1)" font-size="26.706248139211823" text-anchor="end" font-weight="bold">50</text>
<path d="M1703.3,1737.8 H1719.1" stroke="#0d0d0d" stroke-width="4.2" fill="none"/>
<text transform="translate(1698.3,1748.1) scale(1.08,1)" font-size="26.706248139211823" text-anchor="end" font-weight="bold">0</text>
<path d="M1809.1,1737.8 V1753.6" stroke="#0d0d0d" stroke-width="4.2" fill="none"/>
<path d="M2009.6,1737.8 V1753.6" stroke="#0d0d0d" stroke-width="4.2" fill="none"/>
<path d="M2209.7,1737.8 V1753.6" stroke="#0d0d0d" stroke-width="4.2" fill="none"/>
<text transform="translate(1823.9,1812.5) scale(1.08,1)" font-size="35.7" text-anchor="middle" font-weight="normal" stroke="#050505" stroke-width="0.9">Control</text>
<text transform="translate(2021.4,1812.5) scale(1.08,1)" font-size="35.7" text-anchor="middle" font-weight="normal" stroke="#050505" stroke-width="0.9">3MA</text>
<text transform="translate(2220.7,1812.5) scale(1.08,1)" font-size="35.7" text-anchor="middle" font-weight="normal" stroke="#050505" stroke-width="0.9">NADPH</text>
<text transform="translate(1630.1,1538.5) rotate(-90) scale(1.0473,1.08)" font-size="28.45" text-anchor="middle" font-weight="bold">mRNA expression(fold-change)</text>
<path d="M1866.1,1380.8 V1362" stroke="#727272" stroke-width="3.8" fill="none"/>
<path d="M1864.2,1362 H2265.6" stroke="#666666" stroke-width="3.6" fill="none"/>
<path d="M2263.7,1362 V1705.6" stroke="#727272" stroke-width="3.8" fill="none"/>
<path d="M2061.9,1362 V1699.2" stroke="#727272" stroke-width="3.8" fill="none"/>
<text transform="translate(1965.1,1356.5) scale(1.08,1)" font-size="31.41911545789626" text-anchor="middle" font-weight="bold" letter-spacing="3.35" stroke="#050505" stroke-width="1.0">***</text>
<text transform="translate(2163.5,1356.5) scale(1.08,1)" font-size="31.41911545789626" text-anchor="middle" font-weight="bold" letter-spacing="3.35" stroke="#050505" stroke-width="1.0">***</text>
</g>
<g>
<text transform="translate(872.1,1928.4) scale(1.08,1)" font-size="36.0" text-anchor="middle" font-weight="normal" stroke="#050505" stroke-width="0.9">TNF-α</text>
<rect x="651.4" y="2383.5" width="37.3" height="7.6" fill="#00ff00"/>
<rect x="706.2" y="2081.8" width="36" height="309.3" fill="#ff0000"/>
<path d="M724.2,2081.8 V2068.5 M715,2068.5 H733.4" stroke="#ff0000" stroke-width="3.6" fill="none" opacity="0.62"/>
<rect x="854.9" y="2387.8" width="21.4" height="3.3" fill="#00ff00"/>
<rect x="900.8" y="2383.9" width="36.9" height="7.2" fill="#ff0000"/>
<rect x="1049.9" y="2388.2" width="21.4" height="2.9" fill="#00ff00"/>
<path d="M582,2009 V2392" stroke="#0d0d0d" stroke-width="4.2" fill="none"/>
<path d="M565.7,2389.9 H1152.7" stroke="#0d0d0d" stroke-width="4.6000000000000005" fill="none" stroke-opacity="0.8"/>
<path d="M565.7,2011.1 H582" stroke="#0d0d0d" stroke-width="4.2" fill="none"/>
<text transform="translate(560.7,2021.2) scale(1.08,1)" font-size="26.00035611791107" text-anchor="end" font-weight="bold">400</text>
<path d="M565.7,2105.4 H582" stroke="#0d0d0d" stroke-width="4.2" fill="none"/>
<text transform="translate(560.7,2115.5) scale(1.08,1)" font-size="26.00035611791107" text-anchor="end" font-weight="bold">300</text>
<path d="M565.7,2200.5 H582" stroke="#0d0d0d" stroke-width="4.2" fill="none"/>
<text transform="translate(560.7,2210.6) scale(1.08,1)" font-size="26.00035611791107" text-anchor="end" font-weight="bold">200</text>
<path d="M565.7,2295.6 H582" stroke="#0d0d0d" stroke-width="4.2" fill="none"/>
<text transform="translate(560.7,2305.7) scale(1.08,1)" font-size="26.00035611791107" text-anchor="end" font-weight="bold">100</text>
<path d="M565.7,2389.9 H582" stroke="#0d0d0d" stroke-width="4.2" fill="none"/>
<text transform="translate(560.7,2400) scale(1.08,1)" font-size="26.00035611791107" text-anchor="end" font-weight="bold">0</text>
<path d="M670.7,2389.9 V2406.2" stroke="#0d0d0d" stroke-width="4.2" fill="none"/>
<path d="M865.6,2389.9 V2406.2" stroke="#0d0d0d" stroke-width="4.2" fill="none"/>
<path d="M1060.6,2389.9 V2406.2" stroke="#0d0d0d" stroke-width="4.2" fill="none"/>
<text transform="translate(676.5,2456.5) scale(1.08,1)" font-size="35.7" text-anchor="middle" font-weight="normal" stroke="#050505" stroke-width="0.9">Control</text>
<text transform="translate(874.2,2456.5) scale(1.08,1)" font-size="35.7" text-anchor="middle" font-weight="normal" stroke="#050505" stroke-width="0.9">3MA</text>
<text transform="translate(1073.5,2456.5) scale(1.08,1)" font-size="35.7" text-anchor="middle" font-weight="normal" stroke="#050505" stroke-width="0.9">NADPH</text>
<text transform="translate(495.6,2194.9) rotate(-90) scale(1.0196,1.08)" font-size="28.45" text-anchor="middle" font-weight="bold">mRNA expression(fold-change)</text>
<path d="M725.1,2042 V2024.8" stroke="#727272" stroke-width="3.8" fill="none"/>
<path d="M723.2,2024.8 H1116.1" stroke="#666666" stroke-width="3.6" fill="none"/>
<path d="M1114.2,2024.8 V2359.1" stroke="#727272" stroke-width="3.8" fill="none"/>
<path d="M917.1,2024.8 V2351.8" stroke="#727272" stroke-width="3.8" fill="none"/>
<text transform="translate(822.4,2017.2) scale(1.08,1)" font-size="30.588654256365967" text-anchor="middle" font-weight="bold" letter-spacing="3.26" stroke="#050505" stroke-width="1.0">***</text>
<text transform="translate(1017.3,2017.2) scale(1.08,1)" font-size="30.588654256365967" text-anchor="middle" font-weight="bold" letter-spacing="3.26" stroke="#050505" stroke-width="1.0">***</text>
</g>
<g>
<text transform="translate(1598.6,1928.4) scale(1.08,1)" font-size="36.0" text-anchor="middle" font-weight="normal" stroke="#050505" stroke-width="0.9">IL-8</text>
<rect x="1345" y="2383.1" width="19.3" height="3.8" fill="#000000"/>
<rect x="1388.7" y="2360.3" width="35.6" height="26.5" fill="#00ff00"/>
<rect x="1440.5" y="2171.8" width="34.3" height="215" fill="#ff0000"/>
<path d="M1457.7,2171.8 V2154.7 M1448.5,2154.7 H1466.9" stroke="#ff0000" stroke-width="3.6" fill="none" opacity="0.62"/>
<rect x="1533.5" y="2383.1" width="19.3" height="3.8" fill="#000000"/>
<rect x="1575.1" y="2379.2" width="35.6" height="7.6" fill="#00ff00"/>
<rect x="1627.8" y="2369.8" width="34.3" height="17.1" fill="#ff0000"/>
<rect x="1719.9" y="2383.1" width="19.3" height="3.8" fill="#000000"/>
<rect x="1762.7" y="2382.6" width="34.3" height="4.2" fill="#00ff00"/>
<rect x="1814.2" y="2381.3" width="34.3" height="5.5" fill="#ff0000"/>
<path d="M1321.4,2020.6 V2387.7" stroke="#0d0d0d" stroke-width="4.2" fill="none"/>
<path d="M1306.4,2385.6 H1868.6" stroke="#0d0d0d" stroke-width="4.6000000000000005" fill="none" stroke-opacity="0.8"/>
<path d="M1306.4,2022.7 H1321.4" stroke="#0d0d0d" stroke-width="4.2" fill="none"/>
<text transform="translate(1301.4,2032.4) scale(1.08,1)" font-size="24.912105918405747" text-anchor="end" font-weight="bold">150</text>
<path d="M1306.4,2143.5 H1321.4" stroke="#0d0d0d" stroke-width="4.2" fill="none"/>
<text transform="translate(1301.4,2153.2) scale(1.08,1)" font-size="24.912105918405747" text-anchor="end" font-weight="bold">100</text>
<path d="M1306.4,2264.8 H1321.4" stroke="#0d0d0d" stroke-width="4.2" fill="none"/>
<text transform="translate(1301.4,2274.5) scale(1.08,1)" font-size="24.912105918405747" text-anchor="end" font-weight="bold">50</text>
<path d="M1306.4,2385.6 H1321.4" stroke="#0d0d0d" stroke-width="4.2" fill="none"/>
<text transform="translate(1301.4,2395.3) scale(1.08,1)" font-size="24.912105918405747" text-anchor="end" font-weight="bold">0</text>
<path d="M1405.8,2385.6 V2401" stroke="#0d0d0d" stroke-width="4.2" fill="none"/>
<path d="M1592.6,2385.6 V2401" stroke="#0d0d0d" stroke-width="4.2" fill="none"/>
<path d="M1779,2385.6 V2401" stroke="#0d0d0d" stroke-width="4.2" fill="none"/>
<text transform="translate(1406.5,2456.5) scale(1.08,1)" font-size="35.7" text-anchor="middle" font-weight="normal" stroke="#050505" stroke-width="0.9">Control</text>
<text transform="translate(1592.4,2456.5) scale(1.08,1)" font-size="35.7" text-anchor="middle" font-weight="normal" stroke="#050505" stroke-width="0.9">3MA</text>
<text transform="translate(1794.2,2456.5) scale(1.08,1)" font-size="35.7" text-anchor="middle" font-weight="normal" stroke="#050505" stroke-width="0.9">NADPH</text>
<text transform="translate(1239.7,2200.1) rotate(-90) scale(0.9769,1.08)" font-size="28.45" text-anchor="middle" font-weight="bold">mRNA expression(fold-change)</text>
<path d="M1457.2,2120 V2035.5" stroke="#727272" stroke-width="3.8" fill="none"/>
<path d="M1455.3,2035.5 H1834.1" stroke="#666666" stroke-width="3.6" fill="none"/>
<path d="M1832.2,2035.5 V2354.8" stroke="#727272" stroke-width="3.8" fill="none"/>
<path d="M1642.8,2035.5 V2348.3" stroke="#727272" stroke-width="3.8" fill="none"/>
<text transform="translate(1551,2029) scale(1.08,1)" font-size="29.30835990400676" text-anchor="middle" font-weight="bold" letter-spacing="3.13" stroke="#050505" stroke-width="1.0">***</text>
<text transform="translate(1737.4,2029) scale(1.08,1)" font-size="29.30835990400676" text-anchor="middle" font-weight="bold" letter-spacing="3.13" stroke="#050505" stroke-width="1.0">***</text>
</g>
<rect x="1914" y="890.3" width="45" height="22" fill="#000000"/>
<text transform="translate(1984,912) scale(1.08,1)" font-size="32.4" text-anchor="start" font-weight="normal" stroke="#050505" stroke-width="0.9">PBS</text>
<rect x="1914" y="937.7" width="45" height="22.8" fill="#00ff00"/>
<text transform="translate(1984,960) scale(1.08,1)" font-size="32.4" text-anchor="start" font-weight="normal" stroke="#050505" stroke-width="0.9">oncoVV</text>
<rect x="1914" y="991.3" width="45" height="22.2" fill="#ff0000"/>
<text transform="translate(1984,1013.5) scale(1.08,1)" font-size="32.4" text-anchor="start" font-weight="normal" stroke="#050505" stroke-width="0.9">oncoVV-shHSP70</text>
<rect x="1945.5" y="2133" width="45" height="22" fill="#000000"/>
<text transform="translate(2015,2154.5) scale(1.08,1)" font-size="32.4" text-anchor="start" font-weight="normal" stroke="#050505" stroke-width="0.9">PBS</text>
<rect x="1945.5" y="2180.4" width="45" height="23" fill="#00ff00"/>
<text transform="translate(2015,2203) scale(1.08,1)" font-size="32.4" text-anchor="start" font-weight="normal" stroke="#050505" stroke-width="0.9">oncoVV</text>
<rect x="1945.5" y="2233.2" width="45" height="22.8" fill="#ff0000"/>
<text transform="translate(2015,2256.3) scale(1.08,1)" font-size="32.4" text-anchor="start" font-weight="normal" stroke="#050505" stroke-width="0.9">oncoVV-shHSP70</text>
<text transform="translate(81.6,115.1) scale(0.841,1)" font-size="79.5" text-anchor="middle" font-weight="bold" stroke="#050505" stroke-width="2.4" stroke-linejoin="miter">A</text>
<text transform="translate(80.8,1312.4) scale(0.672,1)" font-size="81" text-anchor="middle" font-weight="bold" stroke="#050505" stroke-width="3" stroke-linejoin="miter">B</text>
</g>
</svg>
</body>
</html>
